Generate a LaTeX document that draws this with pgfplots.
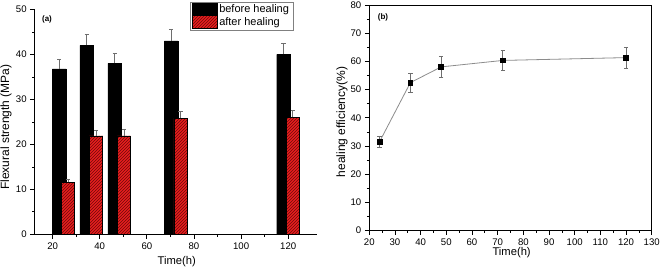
\documentclass[border=0pt]{standalone}
\usepackage{pgfplots}
\pgfplotsset{compat=1.18}
\usepackage{fontspec}
\setmainfont{Liberation Sans}
\usetikzlibrary{patterns}
\definecolor{barred}{RGB}{232,30,30}
\definecolor{hatch}{RGB}{110,10,10}
\definecolor{errgray}{RGB}{110,110,110}
\definecolor{linegray}{RGB}{140,140,140}
\pgfplotsset{barlegend/.style={legend image code/.code={\draw[##1] (0pt,-6pt) rectangle (25pt,6.5pt);}}}
\begin{document}
\begin{tikzpicture}
\useasboundingbox (0,0) rectangle (661pt,271pt);
\pgfplotsset{
  common/.style={
    scale only axis,
    /pgf/number format/assume math mode=true,
    tick label style={font=\fontsize{9.6}{11}\selectfont},
    tick align=outside,
    major tick length=4.5pt,
    minor tick length=2.5pt,
    minor tick num=1,
    axis line style={line width=0.9pt},
    every tick/.style={black, line width=0.8pt},
    every minor tick/.style={black, line width=0.7pt},
    xlabel style={font=\fontsize{11.2}{13}\selectfont},
    ylabel style={font=\fontsize{12}{14}\selectfont},
  },
  errs/.style={
    error bars/error bar style={errgray, line width=0.7pt},
    error bars/error mark options={rotate=90, errgray, mark size=2.2pt, line width=0.7pt}
  }
}
% ---------- (a) ----------
\begin{axis}[common,
  at={(34.7pt,36.7pt)}, anchor=south west,
  width=282.3pt, height=224.8pt,
  xmin=12.4, xmax=132.2, ymin=0, ymax=50,
  axis x line*=bottom, axis y line*=left,
  xtick={20,40,...,120}, ytick={0,10,...,50},
  xlabel={Time(h)}, ylabel={Flexural strength (MPa)},
  xlabel style={at={(axis description cs:0.503,-0.121)}, anchor=center},
  ylabel style={at={(axis description cs:-0.1017,0.477)}, anchor=center, rotate=0},
  legend style={at={(axis description cs:0.916,1.035)}, anchor=north east,
    draw=gray, line width=0.6pt, font=\fontsize{11}{12}\selectfont,
    inner xsep=2pt, inner ysep=1pt, row sep=-1pt, cells={anchor=west}},
  barlegend,
  clip=false,
]
\addplot[ybar, bar width=5.8, bar shift=0pt, fill=black, draw=black, line width=0.4pt]
  coordinates {(22.8,36.8) (34.5,42.0) (46.4,38.0) (70.3,43.0) (118.0,40.0)};
\addlegendentry{before healing}
\addplot[ybar, bar width=5.6, bar shift=0pt, fill=barred, draw=black, line width=0.4pt,
  postaction={pattern=north east lines, pattern color=hatch}]
  coordinates {(26.5,11.6) (38.4,21.9) (50.3,21.9) (74.3,25.8) (121.9,26.0)};
\addlegendentry{after healing}
\addplot[forget plot, draw=none, mark=none, errs,
  error bars/.cd, y dir=plus, y explicit]
  coordinates {(22.8,36.8) +- (0,2.2) (34.5,42.0) +- (0,2.5) (46.4,38.0) +- (0,2.2)
               (70.3,43.0) +- (0,2.6) (118.0,40.0) +- (0,2.4)};
\addplot[forget plot, draw=none, mark=none, errs,
  error bars/.cd, y dir=plus, y explicit]
  coordinates {(26.5,11.6) +- (0,0.7) (38.4,21.9) +- (0,1.3) (50.3,21.9) +- (0,1.4)
               (74.3,25.8) +- (0,1.6) (121.9,26.0) +- (0,1.6)};
\node[font=\bfseries\fontsize{8}{9}\selectfont] at (axis description cs:0.0436,0.958) {(a)};
\end{axis}
% ---------- (b) ----------
\begin{axis}[common,
  at={(369.3pt,40.7pt)}, anchor=south west,
  width=282.4pt, height=225pt,
  xmin=20, xmax=130, ymin=0, ymax=80,
  xtick pos=bottom, ytick pos=left,
  xtick={20,30,...,130}, ytick={0,10,...,80},
  xlabel={Time(h)}, ylabel={healing efficiency(\%)},
  xlabel style={at={(axis description cs:0.504,-0.1)}, anchor=center},
  ylabel style={at={(axis description cs:-0.0967,0.481)}, anchor=center, rotate=0},
  clip=false,
]
\addplot[linegray, line width=0.8pt, mark=square*, mark size=2.4pt,
  mark options={black, fill=black}, errs,
  error bars/.cd, y dir=both, y explicit]
  coordinates {(24,31.5) +- (0,1.9) (36,52.5) +- (0,3.3) (48,58.1) +- (0,3.6)
               (72,60.4) +- (0,3.6) (120,61.4) +- (0,3.7)};
\node[font=\bfseries\fontsize{8}{9}\selectfont] at (axis description cs:0.0485,0.948) {(b)};
\end{axis}
\end{tikzpicture}
\end{document}
